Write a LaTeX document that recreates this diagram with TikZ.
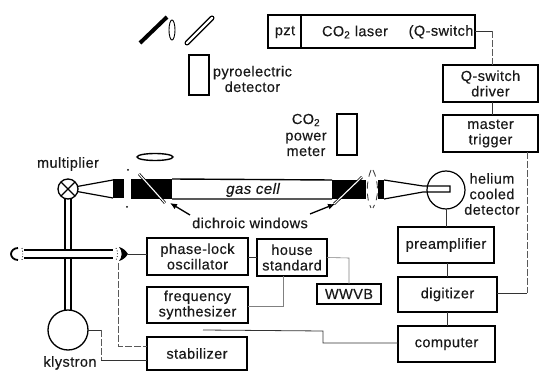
\documentclass[tikz,border=0pt]{standalone}
\usepackage{fontspec}
\setmainfont[LetterSpace=3,FakeBold=0.4]{Liberation Sans}
\usetikzlibrary{arrows.meta,shapes.geometric}
\tikzset{
 every node/.style={inner sep=0pt,outer sep=0pt},
 lbl/.style={font=\fontsize{14.5}{15.5}\selectfont,align=center,text=black!90},
 bx/.style={draw,line width=1.5pt,lbl},
 wire/.style={line width=0.8pt,draw=black!80},
 dashw/.style={line width=0.7pt,draw=black!65,dash pattern=on 7pt off 2pt},
 guide/.style={line width=1.3pt},
 win/.style={line width=0.9pt,draw=black!75,dash pattern=on 7pt off 5pt},
 callout/.style={line width=1.3pt,-{Latex[length=7pt,width=6pt]}},
}
\begin{document}
\begin{tikzpicture}[x=1pt,y=-1pt]
\useasboundingbox (0,0) rectangle (539,371);
% boxes
\node[bx,minimum width=207pt,minimum height=33pt] (laser) at (371.5,31.5) {};
\node[lbl] (pzt) at (285,32) {pzt};
\node[lbl] (co2l) at (355,32) {CO\textsubscript{2} laser};
\node[lbl] (qsw) at (441,32) {(Q-switch};
\coordinate (pztT) at (301,15); \coordinate (pztB) at (301,48);
\draw[line width=1.1pt] (pztT) -- (pztB);
\node[bx,minimum width=95pt,minimum height=37pt] (driver) at (490.5,83.5) {Q-switch\\driver};
\node[bx,minimum width=95pt,minimum height=37pt] (master) at (490.5,133.5) {master\\trigger};
\node[bx,minimum width=20pt,minimum height=40pt] (pyro) at (199,75) {};
\node[lbl,align=center,anchor=west] (pyrot) at (213,79) {pyroelectric\\detector};
\node[bx,minimum width=20pt,minimum height=41pt] (pm) at (347,134.5) {};
\node[lbl] (pmt) at (306,135) {CO\textsubscript{2}\\[1pt]power\\meter};
\node[bx,minimum width=96pt,minimum height=36pt] (pre) at (446,245) {preamplifier};
\node[bx,minimum width=99pt,minimum height=35pt] (dig) at (447.5,294.5) {digitizer};
\node[bx,minimum width=97pt,minimum height=36pt] (comp) at (446.5,344) {computer};
\node[bx,minimum width=101pt,minimum height=37pt] (pl) at (197.5,256.5) {phase-lock\\oscillator};
\node[bx,minimum width=101pt,minimum height=36pt] (fs) at (197.5,305) {frequency\\synthesizer};
\node[bx,minimum width=70pt,minimum height=37pt] (hs) at (292,257.5) {house\\standard};
\node[bx,minimum width=64pt,minimum height=20pt] (wwvb) at (349,294) {WWVB};
\node[bx,minimum width=100pt,minimum height=33pt] (stab) at (197,353.5) {stabilizer};
\node[draw,circle,line width=1.2pt,minimum size=38pt] (det) at (446,190) {};
\node[lbl] (dett) at (492,194) {helium\\cooled\\detector};
\node[draw,circle,line width=1.3pt,minimum size=40pt] (kly) at (68,330) {};
\node[lbl] (klyt) at (70,363) {klystron};
\node[draw,circle,line width=1.3pt,minimum size=20pt] (mult) at (68,189) {};
\draw[line width=1.3pt] (mult.north west) -- (mult.south east) (mult.north east) -- (mult.south west);
\node[lbl] (multt) at (68,164) {multiplier};
% top optics
\coordinate (m1a) at (140,43); \coordinate (m1b) at (167,17);
\draw[line width=4pt] (m1a) -- (m1b);
\node[draw,ellipse,line width=0.9pt,minimum width=6pt,minimum height=20pt] (l1) at (172,30) {};
\coordinate (m2a) at (187,43); \coordinate (m2b) at (212,18);
\draw[line width=5pt,line cap=round] (m2a) -- (m2b);
\draw[line width=2.2pt,white,line cap=round] (m2a) -- (m2b);
\node[draw,ellipse,line width=1.4pt,minimum width=36pt,minimum height=7pt] (l2) at (155,157) {};
% gas cell
\fill (113,179) rectangle (124,198);
\fill (131,179) rectangle (172,199);
\fill (332,180) rectangle (366,199);
\fill (378,180) rectangle (384,199);
\draw[line width=1.4pt] (172,179) -- (332,180) (172,199) -- (332,199);
\node[lbl,font=\fontsize{15}{16}\selectfont\itshape] (cell) at (253,190) {gas cell};
\draw[line width=2.6pt] (139,174) -- (165,203);
\draw[white,line width=1.1pt] (139,174) -- (165,203);
\draw[line width=2.6pt] (362,177) -- (334,204);
\draw[white,line width=1.1pt] (362,177) -- (334,204);
% cones
\draw[line width=1.2pt] (mult.15) -- (113,180);
\draw[line width=1.2pt] (mult.-15) -- (113,198);
\draw[line width=1.2pt] (384,180) -- (423,186) -- (450,186) -- (450,192) -- (423,192) -- (384,199);
% windows
\fill[black] (128,170) circle (1pt) (127,207) circle (1pt);
\draw[win] (371,170) .. controls (366,182) and (366,198) .. (371,208);
\draw[win] (373,170) .. controls (379,182) and (379,198) .. (373,208);
% callouts
\node[lbl] (dw) at (250,223) {dichroic windows};
\draw[callout] (190,215) -- (170,203);
\draw[callout] (310,214) -- (335,204);
% waveguide
\draw[guide] (65,198) -- (65,250) (71,198) -- (71,250) (65,258) -- (65,311) (71,258) -- (71,311);
\draw[line width=1.6pt] (24,250) -- (113,250) (24,258) -- (113,258);
\draw[line width=1.8pt] (18,248) .. controls (14,248) and (11,251) .. (11,254) .. controls (11,257) and (14,260) .. (18,260);
\draw[line width=0.8pt,dotted] (22,248) .. controls (23,251) and (23,257) .. (22,260);
\draw[line width=0.8pt,dotted] (116,248) .. controls (118,251) and (118,257) .. (116,260);
\fill (119,247) .. controls (123,248) and (126,251) .. (128,254) .. controls (126,257) and (123,260) .. (119,261) .. controls (122,258) and (123,251) .. (119,247) -- cycle;
% connectors
\coordinate (hornR) at (128,254);
\draw[wire] (hornR) -- (pl.west |- hornR);
\coordinate (d1) at (118,263); \coordinate (d2) at (118,346);
\draw[dashw] (d1) -- (d2) -- (stab.west |- d2);
\coordinate (k1) at (101,330); \coordinate (k2) at (101,360);
\draw[wire] (kly.east) -- (k1);
\draw[dashw] (k1) -- (k2);
\draw[wire] (k2) -- (stab.west |- k2);
\draw[wire] (pl.east |- hs.west) -- (hs.west);
\coordinate (h1) at (349,258);
\draw[wire,draw=black!50,line width=0.6pt] (hs.east) -- (h1) -- (h1 |- wwvb.north);
\coordinate (f1) at (283,306);
\draw[wire,draw=black!50,line width=0.6pt] (fs.east |- f1) -- (f1) -- (f1 |- hs.south);
\coordinate (c1) at (323,343); \coordinate (c2) at (323,331); \coordinate (c3) at (203,330);
\draw[wire] (comp.west |- c1) -- (c1) -- (c2) -- (c3);
\coordinate (q1) at (492,31);
\draw[wire] (laser.east |- q1) -- (q1);
\draw[dashw] (q1) -- (q1 |- driver.north);
\draw[wire] (q1 |- driver.south) -- (q1 |- master.north);
\draw[wire] (det.south) -- (pre.north);
\coordinate (v1) at (447,270);
\draw[wire] (v1 |- pre.south) -- (v1 |- dig.north);
\draw[wire] (v1 |- dig.south) -- (v1 |- comp.north);
\coordinate (t1) at (527,293);
\draw[dashw] (t1 |- master.south) -- (t1);
\draw[wire] (t1) -- (dig.east |- t1);
\end{tikzpicture}
\end{document}
